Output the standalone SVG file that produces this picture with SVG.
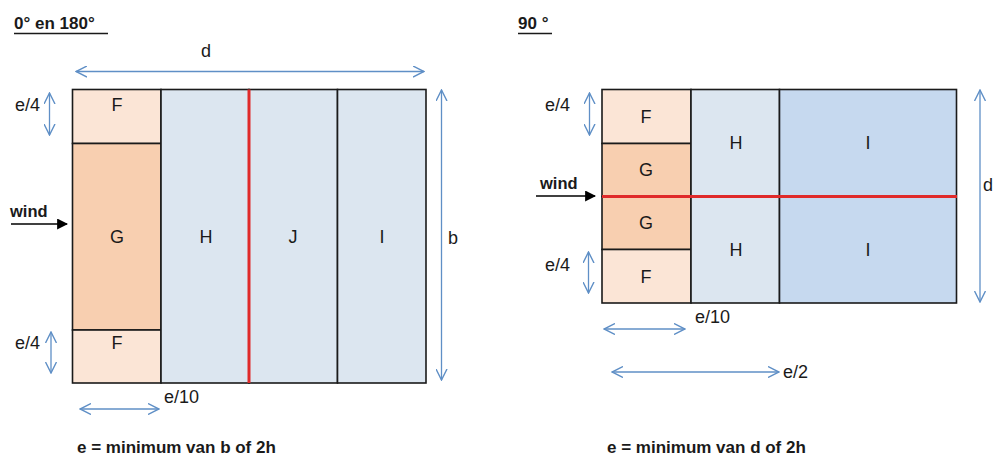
<svg xmlns="http://www.w3.org/2000/svg" width="994" height="457" viewBox="0 0 994 457">
<defs>
<marker id="chev" viewBox="0 0 12 12" refX="11" refY="6" markerWidth="12" markerHeight="12" markerUnits="userSpaceOnUse" orient="auto-start-reverse">
<path d="M0,0.5 L11,6 L0,11.5" fill="none" stroke="#5F8FC6" stroke-width="1.4"/>
</marker>
<marker id="tri" viewBox="0 0 10 10" refX="9" refY="5" markerWidth="11" markerHeight="11" markerUnits="userSpaceOnUse" orient="auto">
<path d="M0,0 L10,5 L0,10 Z" fill="#000"/>
</marker>
</defs>
<style>
text{font-family:"Liberation Sans","Open Sans",Arial,sans-serif;fill:#1a1a1a}
.lbl{font-size:18px;text-anchor:middle;dominant-baseline:central}
.dim{font-size:18px;dominant-baseline:central}
.ttl{font-size:17px;font-weight:bold}
.bold{font-size:16.5px;font-weight:bold}
.foot{font-size:17px;font-weight:bold}
.cell{stroke:#1a1a1a;stroke-width:1.6}
.F{fill:#FBE5D6}.G{fill:#F8CFB0}.H{fill:#DCE6F0}.I{fill:#C6D9EF}
.dl{stroke:#5F8FC6;stroke-width:1.3;fill:none;marker-start:url(#chev);marker-end:url(#chev)}
.red{stroke:#E02A2A;stroke-width:3}
</style>
<rect width="994" height="457" fill="#fff"/>
<g id="title-left"><text class="ttl" x="14" y="29">0° en 180°</text><line x1="14" y1="33.5" x2="108" y2="33.5" stroke="#1a1a1a" stroke-width="1.3"/></g>
<g id="title-right"><text class="ttl" x="518" y="29">90 °</text><line x1="518" y1="33.5" x2="552" y2="33.5" stroke="#1a1a1a" stroke-width="1.3"/></g>

<g id="left-zones">
<g id="L-F-top"><rect class="cell F" x="72.5" y="89.5" width="88.5" height="54"/><text class="lbl" x="117" y="105">F</text></g>
<g id="L-G"><rect class="cell G" x="72.5" y="143.5" width="88.5" height="186.5"/><text class="lbl" x="117" y="237">G</text></g>
<g id="L-F-bot"><rect class="cell F" x="72.5" y="330" width="88.5" height="53"/><text class="lbl" x="117" y="343">F</text></g>
<g id="L-H"><rect class="cell H" x="161" y="89.5" width="88" height="293.5"/><text class="lbl" x="206" y="237">H</text></g>
<g id="L-J"><rect class="cell H" x="249" y="89.5" width="88.5" height="293.5"/><text class="lbl" x="293" y="237">J</text></g>
<g id="L-I"><rect class="cell H" x="337.5" y="89.5" width="88.5" height="293.5"/><text class="lbl" x="382" y="237">I</text></g>
<line class="red" x1="249" y1="89.5" x2="249" y2="383"/>
</g>

<g id="right-zones">
<g id="R-F-top"><rect class="cell F" x="602" y="89.5" width="89" height="54"/><text class="lbl" x="646" y="117">F</text></g>
<g id="R-G-top"><rect class="cell G" x="602" y="143.5" width="89" height="53"/><text class="lbl" x="646" y="170">G</text></g>
<g id="R-G-bot"><rect class="cell G" x="602" y="196.5" width="89" height="53"/><text class="lbl" x="646" y="223">G</text></g>
<g id="R-F-bot"><rect class="cell F" x="602" y="249.5" width="89" height="53.5"/><text class="lbl" x="646" y="277">F</text></g>
<g id="R-H"><rect class="cell H" x="691" y="89.5" width="88.5" height="213.5"/><text class="lbl" x="736" y="143">H</text><text class="lbl" x="736" y="250">H</text></g>
<g id="R-I"><rect class="cell I" x="779.5" y="89.5" width="177" height="213.5"/><text class="lbl" x="868" y="143">I</text><text class="lbl" x="868" y="250">I</text></g>
<line class="red" x1="602" y1="196.5" x2="957" y2="196.5"/>
</g>

<g id="connectors">
<line class="dl" x1="76" y1="71.5" x2="424" y2="71.5"/>
<line class="dl" x1="49.5" y1="93" x2="49.5" y2="135"/>
<line class="dl" x1="51" y1="332" x2="51" y2="373"/>
<line class="dl" x1="441.5" y1="90" x2="441.5" y2="380"/>
<line class="dl" x1="80" y1="409" x2="159" y2="409"/>
<line x1="11" y1="224" x2="67" y2="224" stroke="#000" stroke-width="1.6" marker-end="url(#tri)"/>

<line class="dl" x1="589.5" y1="93" x2="589.5" y2="135"/>
<line class="dl" x1="588.5" y1="252" x2="588.5" y2="293"/>
<line class="dl" x1="980" y1="90" x2="980" y2="302"/>
<line class="dl" x1="604" y1="329" x2="685" y2="329"/>
<line class="dl" x1="612" y1="372" x2="779" y2="372"/>
<line x1="536" y1="196" x2="595" y2="196" stroke="#000" stroke-width="1.6" marker-end="url(#tri)"/>
</g>

<g id="labels">
<text class="dim" x="201" y="51">d</text>
<text class="dim" x="15" y="105">e/4</text>
<text class="dim" x="15" y="343">e/4</text>
<text class="dim" x="448" y="238">b</text>
<text class="dim" x="164" y="397">e/10</text>
<text class="bold" x="10" y="217">wind</text>
<text class="foot" x="77" y="453">e = minimum van b of 2h</text>

<text class="dim" x="545" y="105">e/4</text>
<text class="dim" x="545" y="265">e/4</text>
<text class="dim" x="983" y="185">d</text>
<text class="dim" x="695" y="317">e/10</text>
<text class="dim" x="783" y="372">e/2</text>
<text class="bold" x="540" y="189">wind</text>
<text class="foot" x="607" y="453">e = minimum van d of 2h</text>
</g>
</svg>
